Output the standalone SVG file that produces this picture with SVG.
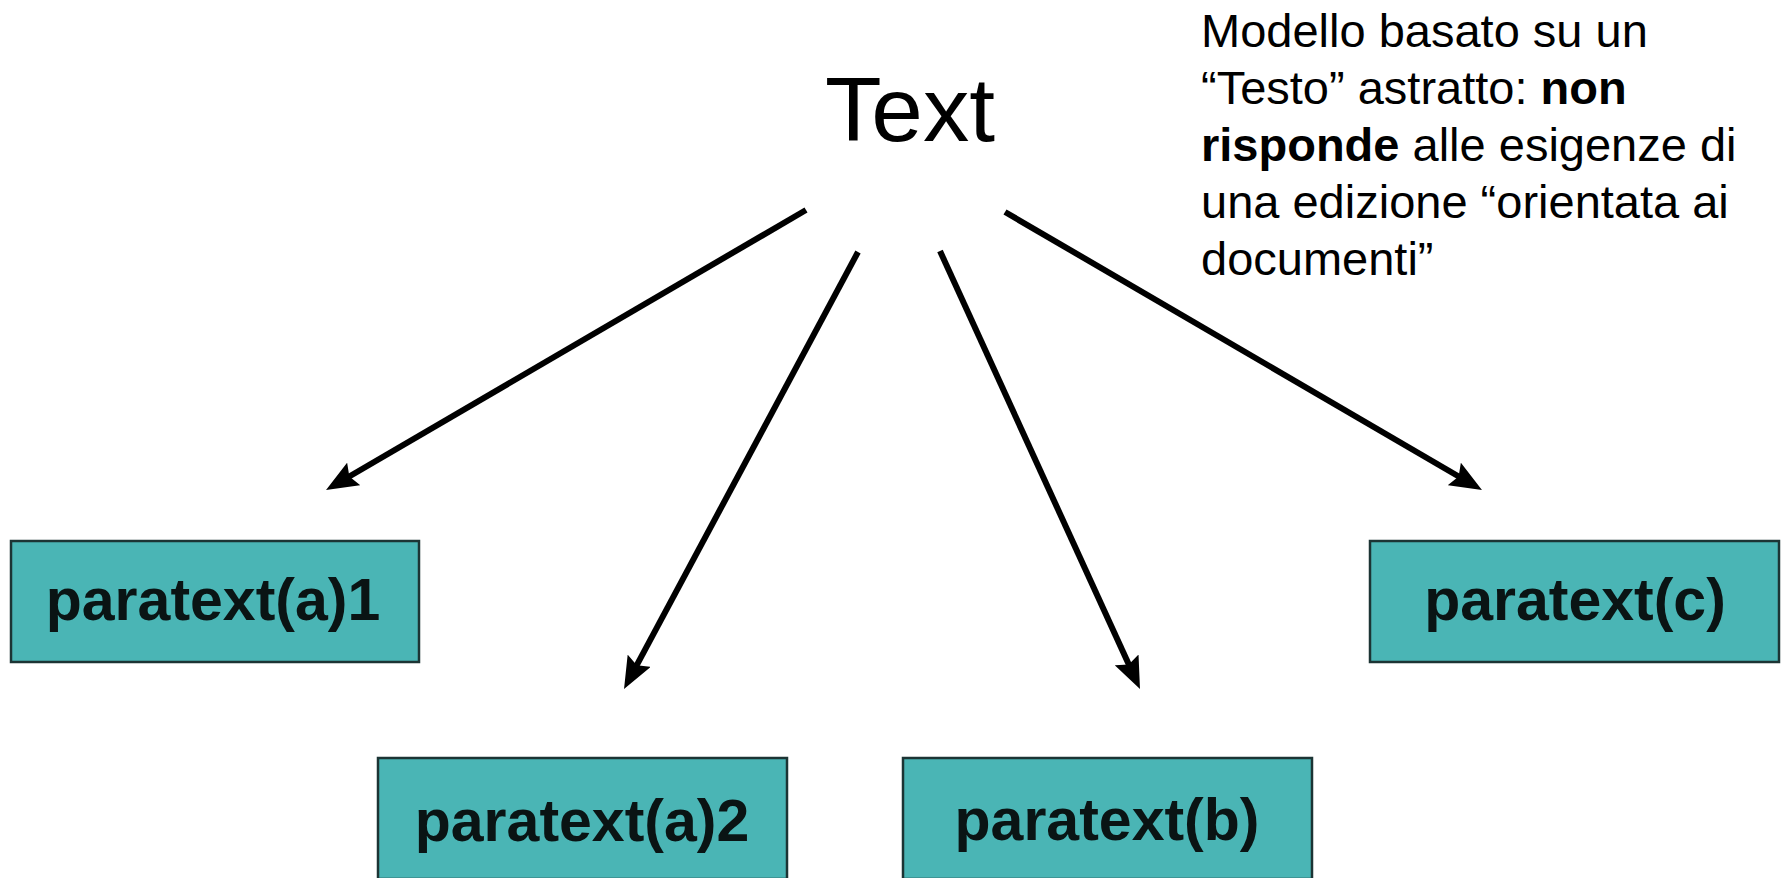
<svg xmlns="http://www.w3.org/2000/svg" width="1791" height="878" viewBox="0 0 1791 878">
  <style>
    .box { fill: #4ab5b5; stroke: #1c3434; stroke-width: 2.5; }
    .lbl { font-family: "Liberation Sans", Arial, sans-serif; font-weight: bold; font-size: 59px; fill: #0a1414; text-anchor: middle; }
    .title { font-family: "Liberation Sans", Arial, sans-serif; font-size: 90px; fill: #000; }
    .note { font-family: "Liberation Sans", Arial, sans-serif; font-size: 47px; fill: #000; }
    .arrow { stroke: #000; stroke-width: 6; fill: none; marker-end: url(#head); }
  </style>
  <defs>
    <!-- solid arrowhead; the line stops 12px short of the tip -->
    <marker id="head" viewBox="0 0 32 26" refX="20" refY="13" markerWidth="32" markerHeight="26" markerUnits="userSpaceOnUse" orient="auto">
      <path d="M0,0 L32,13 L0,26 L5,13 z" fill="#000"/>
    </marker>
  </defs>
  <rect width="1791" height="878" fill="#fff"/>

  <g id="text-root">
    <text class="title" x="825" y="141" textLength="170" lengthAdjust="spacingAndGlyphs">Text</text>
  </g>

  <g id="note">
    <text class="note" x="1201" y="47">Modello basato su un</text>
    <text class="note" x="1201" y="104">“Testo” astratto: <tspan font-weight="bold">non</tspan></text>
    <text class="note" x="1201" y="161"><tspan font-weight="bold">risponde</tspan> alle esigenze di</text>
    <text class="note" x="1201" y="218">una edizione “orientata ai</text>
    <text class="note" x="1201" y="275">documenti”</text>
  </g>

  <g id="connectors">
    <line class="arrow" x1="806" y1="210" x2="336.4" y2="484"/>
    <line class="arrow" x1="858" y1="252" x2="629.7" y2="678.4"/>
    <line class="arrow" x1="940" y1="251" x2="1135" y2="678.1"/>
    <line class="arrow" x1="1005" y1="212" x2="1471.6" y2="484"/>
  </g>

  <g id="paratext-a1">
    <rect class="box" x="11" y="541" width="408" height="121"/>
    <text class="lbl" x="213" y="620">paratext(a)1</text>
  </g>
  <g id="paratext-a2">
    <rect class="box" x="378" y="758" width="409" height="121"/>
    <text class="lbl" x="582" y="841">paratext(a)2</text>
  </g>
  <g id="paratext-b">
    <rect class="box" x="903" y="758" width="409" height="121"/>
    <text class="lbl" x="1107" y="840">paratext(b)</text>
  </g>
  <g id="paratext-c">
    <rect class="box" x="1370" y="541" width="409" height="121"/>
    <text class="lbl" x="1575" y="620">paratext(c)</text>
  </g>
</svg>
